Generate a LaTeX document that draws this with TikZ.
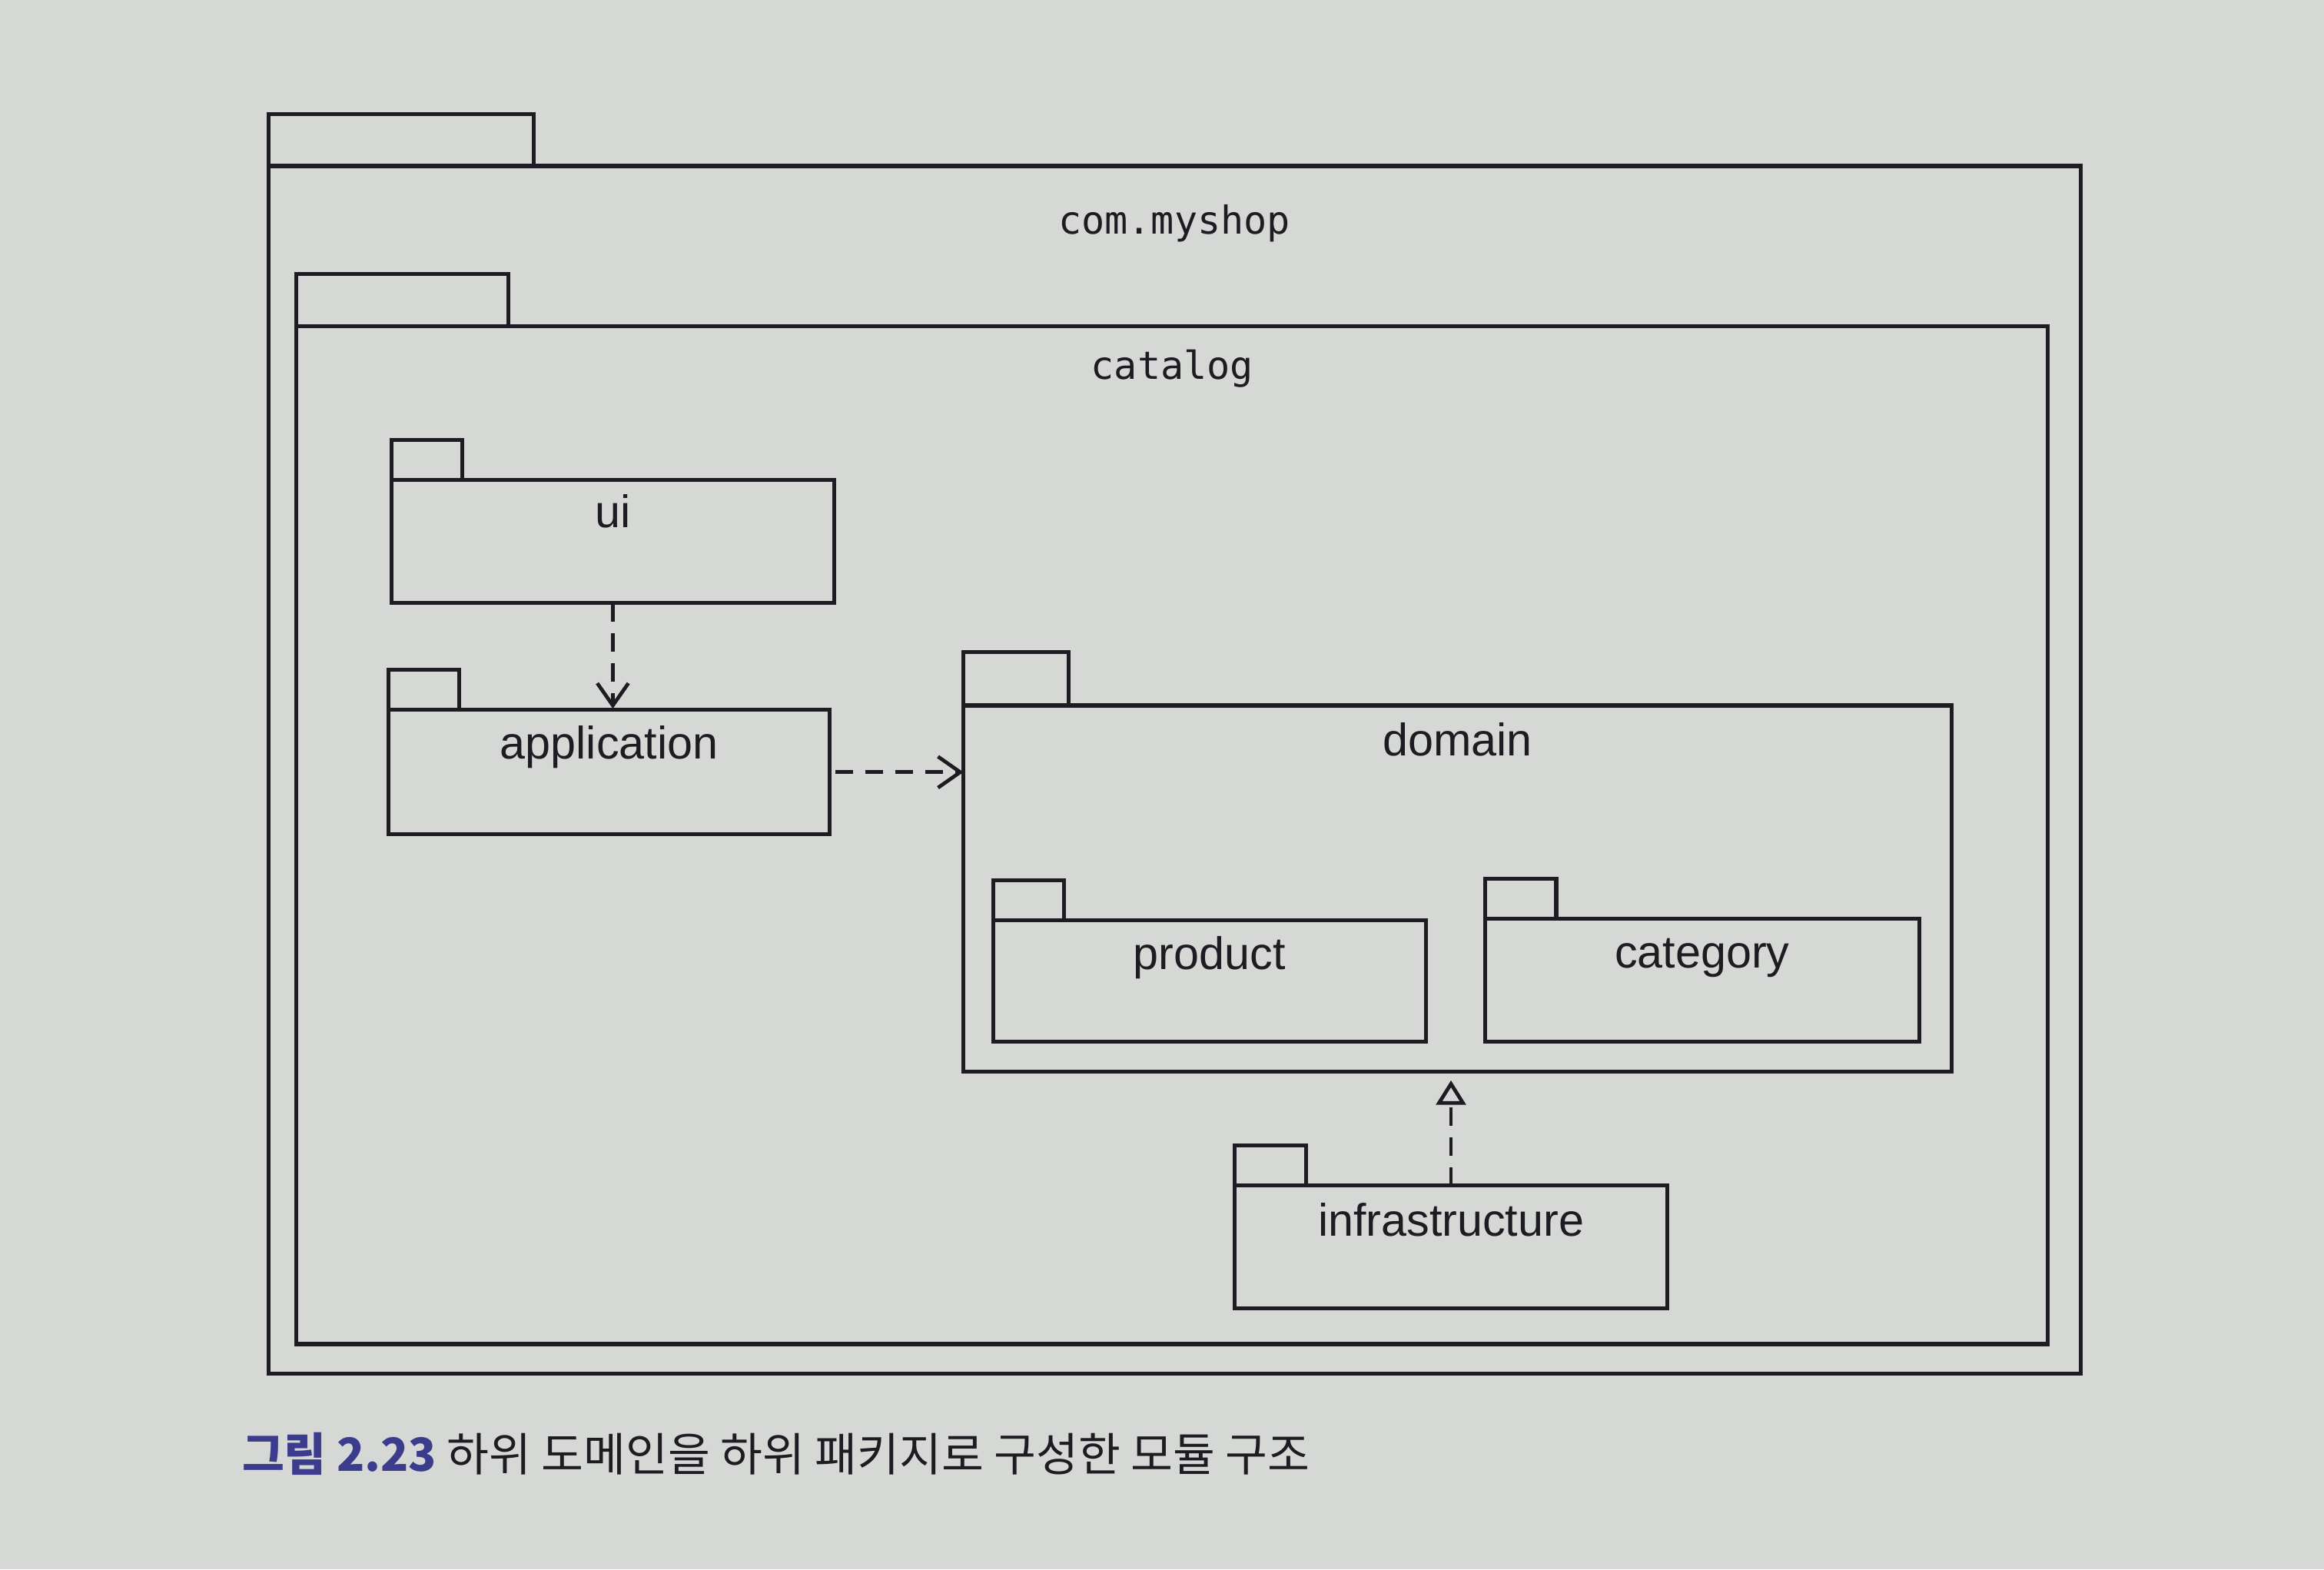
\documentclass[tikz,border=0pt]{standalone}
\usepackage{fontspec}
\setmainfont{Liberation Sans}
\newfontfamily\codefont{DejaVu Sans Mono}
\newfontfamily\cjk{Noto Sans CJK KR}
\usetikzlibrary{arrows.meta,positioning}
\definecolor{paper}{RGB}{214,216,214}
\definecolor{ink}{RGB}{30,28,34}
\definecolor{figblue}{RGB}{60,60,140}

\begin{document}
\begin{tikzpicture}[x=0.02cm,y=-0.02cm,
  pkg/.style={draw=ink, line width=1.5pt, inner sep=0pt, outer sep=0pt, anchor=north west},
  pkgtab/.style={draw=ink, line width=1.5pt, inner sep=0pt, outer sep=0pt, minimum width=0.96cm, minimum height=0.54cm},
  pkgname/.style={font=\fontsize{17.5}{20}\selectfont, text=ink, inner sep=0pt, anchor=base},
  codename/.style={font=\codefont\fontsize{14.8}{17}\selectfont, text=ink, inner sep=0pt, anchor=base},
  dep/.style={draw=ink, line width=1.4pt, dash pattern=on 7pt off 4.5pt}
]

% page
\fill[paper] (0,0) rectangle (1568,1059);
\useasboundingbox (0,0) rectangle (1568,1059);

% com.myshop
\node[pkg, minimum width=24.46cm, minimum height=16.3cm] (shop) at (181,112) {};
\node[pkgtab, minimum width=3.58cm, minimum height=0.7cm, above right=0cm and 0cm of shop.north west] (shop-tab) {};
\node[codename] (shop-name) at ([yshift=-0.92cm]shop.north) {com.myshop};

% catalog
\node[pkg, minimum width=23.64cm, minimum height=13.74cm] (catalog) at (200,220) {};
\node[pkgtab, minimum width=2.86cm, minimum height=0.7cm, above right=0cm and 0cm of catalog.north west] (catalog-tab) {};
\node[codename] (catalog-name) at ([yshift=-0.72cm]catalog.north) {catalog};

% ui, application
\node[pkg, minimum width=5.98cm, minimum height=1.66cm] (ui) at (264,324) {};
\node[pkgtab, above right=0cm and 0cm of ui.north west] (ui-tab) {};
\node[pkgname] (ui-name) at ([yshift=-0.64cm]ui.north) {ui};

\node[pkg, minimum width=5.96cm, minimum height=1.68cm] (app) at (262,479) {};
\node[pkgtab, above right=0cm and 0cm of app.north west] (app-tab) {};
\node[pkgname] (app-name) at ([yshift=-0.66cm]app.north) {application};

% domain
\node[pkg, minimum width=13.34cm, minimum height=4.94cm] (domain) at (650,476) {};
\node[pkgtab, minimum width=1.42cm, minimum height=0.72cm, above right=0cm and 0cm of domain.north west] (domain-tab) {};
\node[pkgname] (domain-name) at ([yshift=-0.68cm]domain.north) {domain};

\node[pkg, minimum width=5.84cm, minimum height=1.64cm] (product) at (670,621) {};
\node[pkgtab, above right=0cm and 0cm of product.north west] (product-tab) {};
\node[pkgname] (product-name) at ([yshift=-0.66cm]product.north) {product};

\node[pkg, minimum width=5.86cm, minimum height=1.66cm] (category) at (1002,620) {};
\node[pkgtab, above right=0cm and 0cm of category.north west] (category-tab) {};
\node[pkgname] (category-name) at ([yshift=-0.66cm]category.north) {category};

% infrastructure
\node[pkg, minimum width=5.84cm, minimum height=1.66cm] (infra) at (833,800) {};
\node[pkgtab, above right=0cm and 0cm of infra.north west] (infra-tab) {};
\node[pkgname] (infra-name) at ([yshift=-0.68cm]infra.north) {infrastructure};

% dependencies
\draw[dep, -{Straight Barb[length=3mm,width=4.2mm]}, shorten >=0.5pt] (ui) -- (ui.south |- app.north);
\draw[dep, -{Straight Barb[length=3mm,width=4.2mm]}, shorten <=2pt] (app.east) -- (app.east -| domain.west);
\draw[dep, -{Triangle[open,length=3.3mm,width=4mm]}, shorten >=1.2mm] (infra.north) -- (infra.north |- domain.south);

% caption
\node[anchor=west, inner sep=0pt, text=ink, font=\cjk\fontsize{17.6}{20}\selectfont] (caption) at (163,981)
  {\textcolor{figblue}{\bfseries 그림 2.23} 하위 도메인을 하위 패키지로 구성한 모듈 구조};

\end{tikzpicture}
\end{document}
